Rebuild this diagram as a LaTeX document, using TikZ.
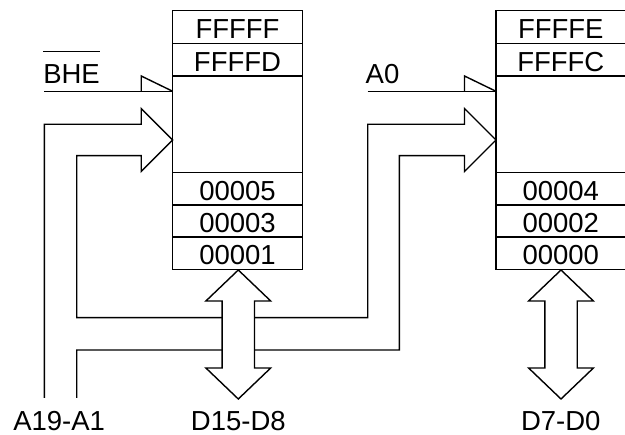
\documentclass[tikz,border=0pt]{standalone}
\usepackage{fontspec}
\setmainfont{Liberation Sans}
\newcommand\lblfont{\fontsize{27.5}{30}\selectfont}
\begin{document}
\begin{tikzpicture}[x=1pt,y=-1pt,line width=1.4pt,line join=miter,
  cell/.style={draw,minimum width=129.6pt,minimum height=32.4pt,inner sep=0pt,outer sep=0pt,font=\lblfont,text height=23.3pt,text depth=0pt},
  midcell/.style={draw,minimum width=129.6pt,minimum height=96.7pt,inner sep=0pt,outer sep=0pt},
  txt/.style={font=\lblfont,inner sep=0pt,outer sep=0pt,anchor=base west},
  ctxt/.style={font=\lblfont,inner sep=0pt,outer sep=0pt,anchor=base},
  wire/.style={draw,line width=1.4pt},
  dbus/.style={draw,fill=white,line width=1.4pt}]
\useasboundingbox (0,0) rectangle (625,435);
% left memory bank (odd)
\node[cell,minimum height=32.6pt] (L1) at (237.5,27.0) {FFFFF};
\node[cell,minimum height=32.7pt] (L2) at (237.5,59.65) {FFFFD};
\node[midcell] (L3) at (237.5,124.35) {};
\node[cell,minimum height=32.2pt] (L4) at (237.5,188.8) {00005};
\node[cell,minimum height=32.2pt] (L5) at (237.5,221.0) {00003};
\node[cell,minimum height=32.2pt] (L6) at (237.5,253.2) {00001};
% right memory bank (even)
\node[cell,minimum height=32.6pt] (R1) at (560.8,27.0) {FFFFE};
\node[cell,minimum height=32.7pt] (R2) at (560.8,59.65) {FFFFC};
\node[midcell] (R3) at (560.8,124.35) {};
\node[cell,minimum height=32.2pt] (R4) at (560.8,188.8) {00004};
\node[cell,minimum height=32.2pt] (R5) at (560.8,221.0) {00002};
\node[cell,minimum height=32.2pt] (R6) at (560.8,253.2) {00000};
% labels
\node[txt] (bhe) at (43.3,83.3) {BHE};
\draw ([yshift=12.6pt]bhe.north west) -- ([yshift=12.6pt]bhe.north east);
\node[txt] (a0) at (365.7,83.3) {A0};
\node[txt] (a19) at (13.3,430.7) {A19-A1};
\node[ctxt] (d15) at (238.3,430.7) {D15-D8};
\node[ctxt] (d7) at (560.8,430.7) {D7-D0};
% BHE and A0 lines with half heads
\coordinate (bheS) at (44.3,91.3);
\coordinate (bheT) at (bheS -| L3.west);
\draw[wire] (bheS) -- (bheT);
\draw[wire] ([xshift=-31.5pt]bheT) -- ++(0,-15.3) -- (bheT);
\coordinate (a0S) at (367.7,91.3);
\coordinate (a0T) at (a0S -| R3.west);
\draw[wire] (a0S) -- (a0T);
\draw[wire] ([xshift=-31.5pt]a0T) -- ++(0,-15.3) -- (a0T);
% address bus
\coordinate (busA) at (44.3,398);
\coordinate (busB) at (76.7,398);
\coordinate (tipL) at (L3.west |- 0,140);
\coordinate (tipR) at (R3.west |- 0,140);
\draw[wire] (busA) -- (44.3,124.3) -- (141.2,124.3) -- (141.2,108.5) -- (tipL)
  -- (141.2,171.5) -- (141.2,155.7) -- (76.7,155.7) -- (76.7,317.7)
  -- (367.7,317.7) -- (367.7,124.3) -- (464.5,124.3) -- (464.5,108.5) -- (tipR)
  -- (464.5,171.5) -- (464.5,155.7) -- (399.3,155.7) -- (399.3,350)
  -- (76.7,350) -- (busB);
% data buses
\coordinate (dLt) at (238.3,270);
\coordinate (dRt) at (561,270);
\draw[dbus] (dLt) -- ++(32.4,31) -- ++(-16.2,0) -- ++(0,67) -- ++(16.2,0) -- ++(-32.4,31)
  -- ++(-32.4,-31) -- ++(16.2,0) -- ++(0,-67) -- ++(-16.2,0) -- cycle;
\draw[dbus] (dRt) -- ++(32.4,31) -- ++(-16.2,0) -- ++(0,67) -- ++(16.2,0) -- ++(-32.4,31)
  -- ++(-32.4,-31) -- ++(16.2,0) -- ++(0,-67) -- ++(-16.2,0) -- cycle;
\end{tikzpicture}
\end{document}
